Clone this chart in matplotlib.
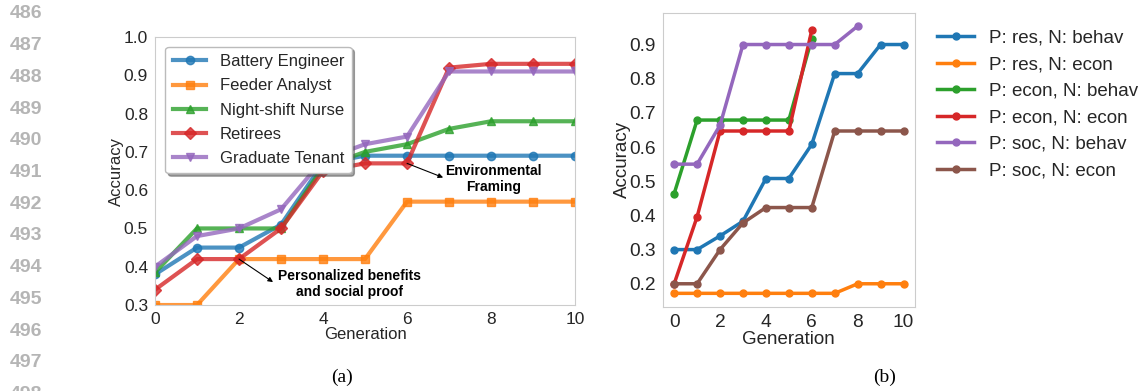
import numpy as np
import matplotlib
matplotlib.use("Agg")
import matplotlib.pyplot as plt

plt.rcParams['font.family'] = ['Liberation Sans', 'DejaVu Sans']
plt.rcParams['text.color'] = '#262626'
plt.rcParams['axes.labelcolor'] = '#262626'
plt.rcParams['xtick.color'] = '#262626'
plt.rcParams['ytick.color'] = '#262626'

# (a) accuracy per persona over generations
generations = list(range(11))
persona_names = ['Battery Engineer', 'Feeder Analyst', 'Night-shift Nurse', 'Retirees', 'Graduate Tenant']
battery = [0.38, 0.45, 0.45, 0.51, 0.67, 0.69, 0.69, 0.69, 0.69, 0.69, 0.69]
feeder = [0.30, 0.30, 0.42, 0.42, 0.42, 0.42, 0.57, 0.57, 0.57, 0.57, 0.57]
nurse = [0.385, 0.50, 0.50, 0.50, 0.66, 0.70, 0.72, 0.76, 0.78, 0.78, 0.78]
retirees = [0.34, 0.42, 0.42, 0.50, 0.65, 0.67, 0.67, 0.92, 0.93, 0.93, 0.93]
tenant = [0.40, 0.48, 0.50, 0.55, 0.68, 0.72, 0.74, 0.91, 0.91, 0.91, 0.91]
persona_series = [battery, feeder, nurse, retirees, tenant]
persona_markers = ['o', 's', '^', 'D', 'v']

# (b) accuracy per prompt / norm combination
combo_names = ['P: res, N: behav', 'P: res, N: econ', 'P: econ, N: behav',
               'P: econ, N: econ', 'P: soc, N: behav', 'P: soc, N: econ']
res_behav = [0.30, 0.30, 0.34, 0.383, 0.508, 0.508, 0.608, 0.815, 0.815, 0.90, 0.90]
res_econ = [0.172, 0.172, 0.172, 0.172, 0.172, 0.172, 0.172, 0.172, 0.20, 0.20, 0.20]
econ_behav = [0.464, 0.679, 0.679, 0.679, 0.679, 0.679, 0.917]
econ_econ = [0.20, 0.396, 0.647, 0.647, 0.647, 0.647, 0.942]
soc_behav = [0.55, 0.55, 0.664, 0.90, 0.90, 0.90, 0.90, 0.90, 0.954]
soc_econ = [0.20, 0.20, 0.30, 0.378, 0.423, 0.423, 0.423, 0.647, 0.647, 0.647, 0.647]
combo_series = [res_behav, res_econ, econ_behav, econ_econ, soc_behav, soc_econ]

line_numbers = list(range(486, 499))

colors = plt.get_cmap('tab10').colors
spine_gray = '#cccccc'

fig = plt.figure(figsize=(11.43, 3.91), dpi=100)

# left panel
ax1 = fig.add_axes([0.1356, 0.2199, 0.3675, 0.6854])
for i, (name, vals) in enumerate(zip(persona_names, persona_series)):
    ax1.plot(generations, vals, marker=persona_markers[i], color=colors[i],
             lw=3, ms=6, alpha=0.8, label=name)
ax1.set_xlim(0, 10)
ax1.set_ylim(0.3, 1.0)
ax1.set_xticks([0, 2, 4, 6, 8, 10])
ax1.set_yticks(np.arange(0.3, 1.01, 0.1))
ax1.set_yticklabels([f'{v:.1f}' for v in np.arange(0.3, 1.01, 0.1)])
ax1.tick_params(length=0, labelsize=12.5, pad=5)
ax1.set_xlabel('Generation', fontsize=12, labelpad=0)
ax1.set_ylabel('Accuracy', fontsize=12, labelpad=0)
for s in ax1.spines.values():
    s.set_color(spine_gray)
ax1.legend(loc='upper left', bbox_to_anchor=(0.005, 0.995), fontsize=12,
           handlelength=2, labelspacing=0.55, borderpad=0.45,
           fancybox=True, framealpha=1, edgecolor='#bbbbbb', shadow=True)

# annotations: arrow runs from the data point to the label
ax1.annotate('', xy=(2.81, 0.36), xytext=(2, 0.42),
             arrowprops=dict(arrowstyle='-|>', color='black', lw=0.8,
                             shrinkA=0, shrinkB=0, mutation_scale=7))
ax1.text(4.62, 0.355, 'Personalized benefits\nand social proof', ha='center', va='center',
         fontsize=10, fontweight='bold', color='black', linespacing=1.15)
ax1.annotate('', xy=(6.86, 0.633), xytext=(6, 0.67),
             arrowprops=dict(arrowstyle='-|>', color='black', lw=0.8,
                             shrinkA=0, shrinkB=0, mutation_scale=7))
ax1.text(8.05, 0.63, 'Environmental\nFraming', ha='center', va='center',
         fontsize=10, fontweight='bold', color='black', linespacing=1.15)

# right panel
ax2 = fig.add_axes([0.5798, 0.2156, 0.2207, 0.7519])
for i, (name, vals) in enumerate(zip(combo_names, combo_series)):
    ax2.plot(generations[:len(vals)], vals, marker='o', color=colors[i],
             lw=2.5, ms=5, label=name)
ax2.set_xticks([0, 2, 4, 6, 8, 10])
ax2.set_yticks(np.arange(0.2, 0.91, 0.1))
ax2.set_yticklabels([f'{v:.1f}' for v in np.arange(0.2, 0.91, 0.1)])
ax2.tick_params(length=0, labelsize=13.8, pad=5)
ax2.set_xlabel('Generation', fontsize=13.5, labelpad=0)
ax2.set_ylabel('Accuracy', fontsize=13.5, labelpad=-1)
for s in ax2.spines.values():
    s.set_color(spine_gray)
ax2.legend(loc='upper left', bbox_to_anchor=(1.02, 1.0), fontsize=13.5,
           frameon=False, handlelength=2, labelspacing=0.5)

# captions and page line numbers
fig.text(0.299, 1 - 377 / 391, '(a)', family='Liberation Serif', fontsize=14,
         ha='center', va='center', color='black')
fig.text(0.774, 1 - 377 / 391, '(b)', family='Liberation Serif', fontsize=14,
         ha='center', va='center', color='black')
for k, n in enumerate(line_numbers):
    fig.text(0.0087, 1 - (14 + 31.7 * k) / 391, str(n), fontsize=14, fontweight='bold',
             color='#b5b5b5', va='center', ha='left')

fig.savefig('out.png', dpi=100)
